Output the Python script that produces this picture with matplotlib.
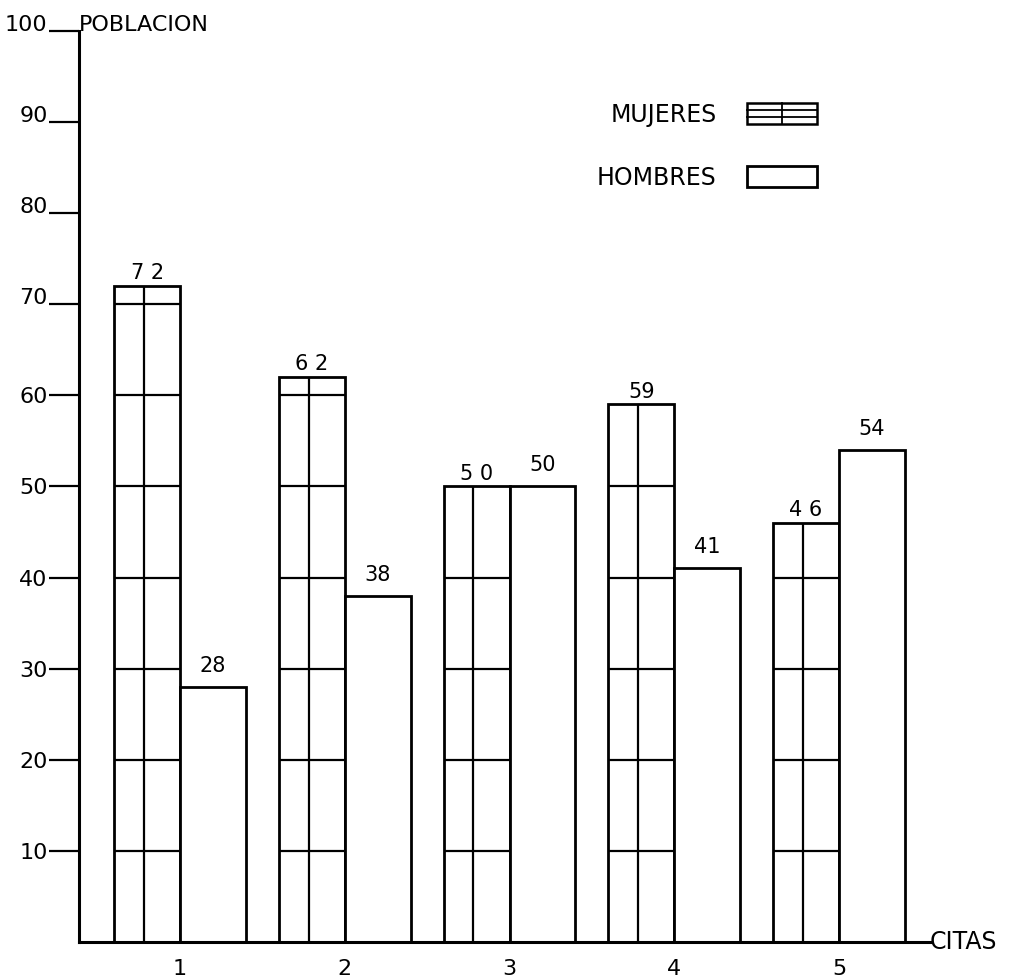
import matplotlib
matplotlib.use("Agg")
import matplotlib.pyplot as plt
from matplotlib.patches import Rectangle
from matplotlib.lines import Line2D
from matplotlib.legend_handler import HandlerBase

# datos
citas = [1, 2, 3, 4, 5]
mujeres = [72, 62, 50, 59, 46]
hombres = [28, 38, 50, 41, 54]
mujeres_txt = ['7 2', '6 2', '5 0', '59', '4 6']
hombres_txt = ['28', '38', '50', '41', '54']
yticks = [10, 20, 30, 40, 50, 60, 70, 80, 90, 100]

plt.rcParams['font.family'] = ['DejaVu Sans']
w = 0.40
lw = 2.0


class HandlerMujeres(HandlerBase):
    # caja con dos rayas horizontales y una vertical, como en el original
    def create_artists(self, legend, orig_handle, xd, yd, width, height, fontsize, trans):
        x0, y0 = -xd, -yd
        arts = [Rectangle((x0, y0), width, height, fc='white', ec='black', lw=1.8, transform=trans)]
        for f in (1/3., 2/3.):
            arts.append(Line2D([x0, x0+width], [y0+height*f]*2, color='black', lw=1.3, transform=trans))
        arts.append(Line2D([x0+width/2.]*2, [y0, y0+height], color='black', lw=1.3, transform=trans))
        return arts


fig = plt.figure(figsize=(10.36, 9.8), dpi=100)
ax = fig.add_axes([0.0763, 0.0388, 0.8214, 0.9296])

bm = ax.bar(citas, mujeres, width=-w, align='edge', facecolor='white', edgecolor='black', linewidth=lw)
bh = ax.bar(citas, hombres, width=w, align='edge', facecolor='white', edgecolor='black', linewidth=lw)

for x, v in zip(citas, mujeres):
    niveles = [l for l in yticks if l < v]
    ax.hlines(niveles, x - w, x, colors='black', linewidth=1.6)
    ax.vlines(x - w/2 - 0.02, 0, v, colors='black', linewidth=1.6)

for x, v, t in zip(citas, mujeres, mujeres_txt):
    ax.annotate(t, (x - w/2, v), xytext=(0, 2), textcoords='offset points',
                ha='center', va='bottom', fontsize=15)
for x, v, t in zip(citas, hombres, hombres_txt):
    ax.annotate(t, (x + w/2, v), xytext=(0, 8), textcoords='offset points',
                ha='center', va='bottom', fontsize=15)

ax.set_xlim(0.387, 5.552)
ax.set_ylim(0, 100)
ax.spines['top'].set_visible(False)
ax.spines['right'].set_visible(False)
ax.spines['left'].set_linewidth(2.2)
ax.spines['bottom'].set_linewidth(2.2)

ax.set_xticks(citas)
ax.set_xticklabels([str(c) for c in citas])
ax.tick_params(axis='x', length=0, pad=12, labelsize=16)
ax.set_yticks(yticks)
ax.set_yticklabels([str(t) for t in yticks])
ax.tick_params(axis='y', length=21.6, width=1.6, pad=1, labelsize=16)
for lab, t in zip(ax.get_yticklabels(), yticks):
    if t >= 70:
        lab.set_va('baseline')

ax.text(0.0, 100, 'POBLACION', transform=ax.get_yaxis_transform(),
        ha='left', va='baseline', fontsize=16, clip_on=False)
ax.text(1.0, 0, 'CITAS', transform=ax.get_yaxis_transform(),
        ha='left', va='center', fontsize=17, clip_on=False)

ax.legend([bm, bh], ['MUJERES', 'HOMBRES'], handler_map={bm: HandlerMujeres()},
          markerfirst=False, frameon=False, fontsize=17,
          handlelength=2.95, handleheight=1.0, handletextpad=1.3, labelspacing=1.65,
          borderpad=0, borderaxespad=0,
          loc='upper right', bbox_to_anchor=(817/1036., 1 - 103/980.),
          bbox_transform=fig.transFigure)

plt.savefig('out.png', dpi=100)
